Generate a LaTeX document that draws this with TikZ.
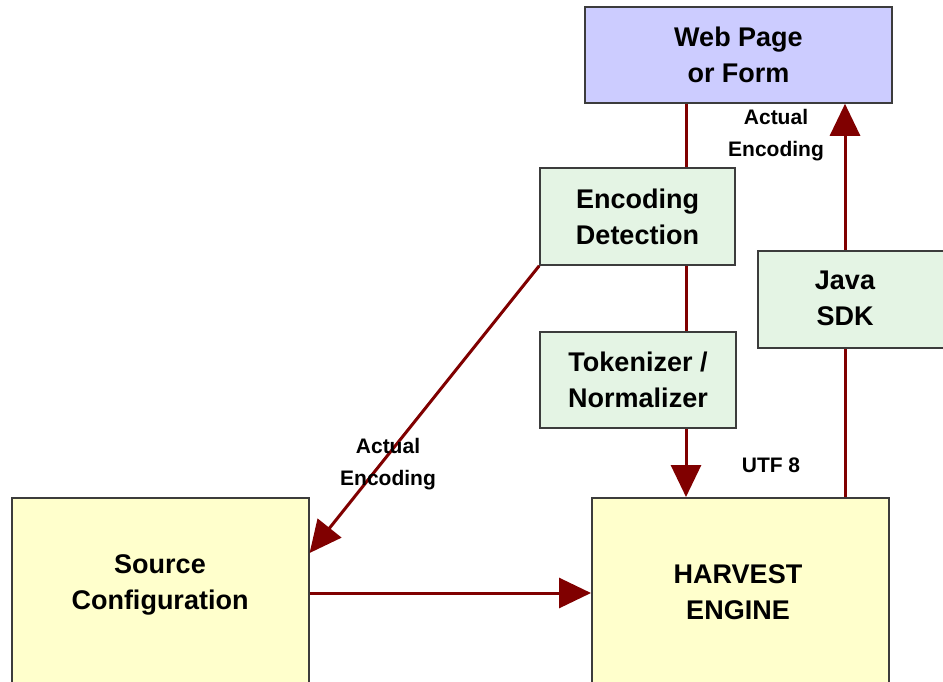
\documentclass[tikz,border=0pt]{standalone}
\usepackage{fontspec}
\setmainfont{Liberation Sans}
\usetikzlibrary{arrows.meta,positioning}

\definecolor{pagecol}{RGB}{204,204,255}
\definecolor{stepcol}{RGB}{228,244,228}
\definecolor{corecol}{RGB}{255,255,204}
\definecolor{flowcol}{RGB}{128,0,0}
\definecolor{edgecol}{RGB}{60,60,60}

\tikzset{
    box/.style={draw=edgecol, line width=1.6pt, rectangle, align=center,
        font=\bfseries\fontsize{27}{36}\selectfont},
    pagebox/.style={box, fill=pagecol},
    stepbox/.style={box, fill=stepcol},
    corebox/.style={box, fill=corecol},
    boxtext/.style={align=center, font=\bfseries\fontsize{27}{36}\selectfont},
    tag/.style={align=center, font=\bfseries\fontsize{21}{32}\selectfont},
    flow/.style={draw=flowcol, line width=3pt},
    flowto/.style={flow, -{Triangle[length=32pt,width=30pt]}},
}

\begin{document}
\begin{tikzpicture}[x=1pt, y=-1pt]
    \fill[white] (0,0) rectangle (943,681);
    \useasboundingbox (0,0) rectangle (943,681);
    \clip (0,0) rectangle (943,681);

    % Page et detection
    \node[pagebox, minimum width=307, minimum height=96] (web) at (738.5,55) {Web Page\\or Form};
    \node[stepbox, minimum width=195, minimum height=97] (detect) at (637.5,216.5) {Encoding\\Detection};
    \node[stepbox, minimum width=196, minimum height=96] (token) at (638,380) {Tokenizer /\\Normalizer};

    % Java SDK (coupe a droite)
    \node[stepbox, anchor=north west, minimum width=210, minimum height=97] (java) at (757,250) {};
    \node[boxtext] (javatxt) at (845,298) {Java\\SDK};

    % Boites du bas (coupees en bas)
    \node[corebox, anchor=north west, minimum width=297, minimum height=230] (source) at (11,497) {};
    \node[boxtext] (sourcetxt) at (160,585) {Source\\Configuration};
    \node[corebox, anchor=north west, minimum width=297, minimum height=230] (harvest) at (591,497) {};
    \node[boxtext] (harvesttxt) at (738,592) {HARVEST\\ENGINE};

    \coordinate (trunk) at (686,0);

    % Fleches
    \draw[flow] (web.south -| trunk) -- (detect.north -| trunk);
    \draw[flow] (detect.south -| trunk) -- (token.north -| trunk);
    \draw[flowto] (token.south -| trunk) -- (harvest.north -| trunk);

    \draw[flow] (harvest.north -| javatxt) -- (java.south -| javatxt);
    \draw[flowto] (java.north -| javatxt) -- (web.south -| javatxt);

    \draw[flowto] (detect.south west) -- ([yshift=-56pt]source.north east);
    \draw[flowto] ([yshift=-96pt]source.north east) -- ([yshift=-96pt]harvest.north west);

    % Etiquettes
    \node[tag] (enctop) at (776,135) {Actual\\Encoding};
    \node[tag] (encleft) at (388,464) {Actual\\Encoding};
    \node[tag] (utf) at (771,465) {UTF 8};
\end{tikzpicture}
\end{document}
